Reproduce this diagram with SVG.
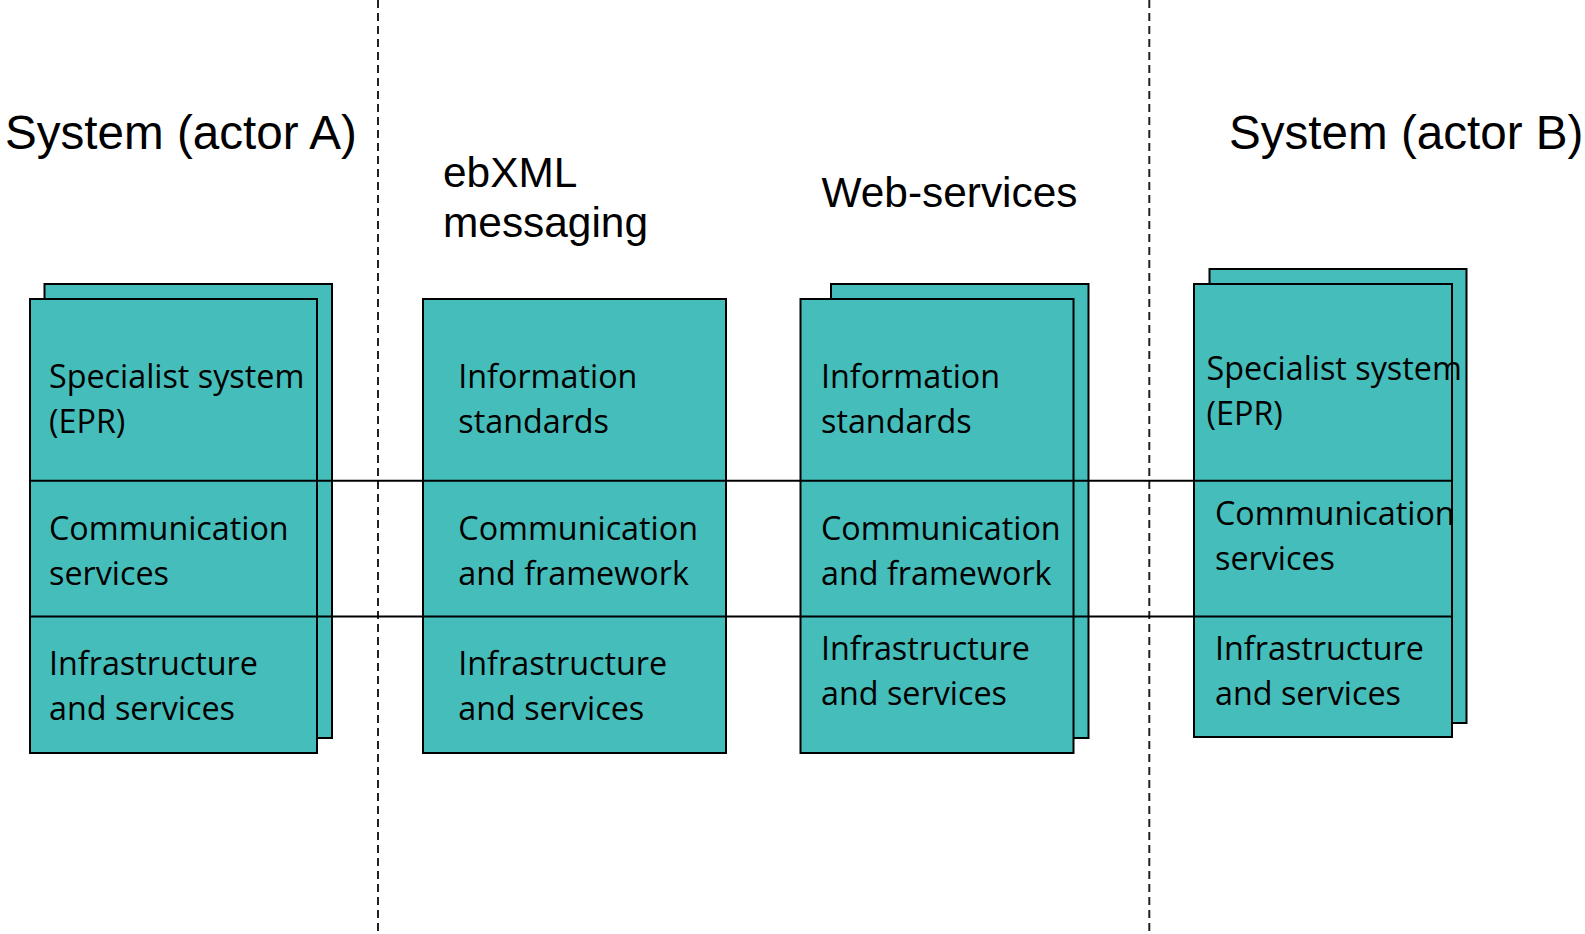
<svg xmlns="http://www.w3.org/2000/svg" width="1585" height="934" viewBox="0 0 1585 934">
<style>
.box{fill:#45BDBA;stroke:#000;stroke-width:2}
.t{font-family:"Open Sans","Noto Sans",sans-serif;font-size:32.3px;fill:#000}
.h{font-family:"Liberation Sans",Arial,sans-serif;fill:#000}
.dash{stroke:#222;stroke-width:2;stroke-dasharray:8,5;fill:none}
.ln{stroke:#000;stroke-width:2;fill:none}
</style>
<rect width="1585" height="934" fill="#fff"/>
<g id="dividers">
<line class="dash" x1="378" y1="0" x2="378" y2="934"/>
<line class="dash" x1="1149.3" y1="0" x2="1149.3" y2="934"/>
</g>
<g id="headings">
<text class="h" x="5" y="148.5" font-size="47.6">System (actor A)</text>
<text class="h" x="443" y="186.7" font-size="42.4">ebXML</text>
<text class="h" x="443" y="236.7" font-size="42.4">messaging</text>
<text class="h" x="821.5" y="206.7" font-size="42.4">Web-services</text>
<text class="h" x="1229" y="148.5" font-size="47.6">System (actor B)</text>
</g>
<g id="actorA">
<rect class="box" x="44.5" y="284" width="287.5" height="454"/>
<rect class="box" x="30" y="299" width="287" height="454"/>
<text class="t" x="49" y="388.3">Specialist system</text>
<text class="t" x="49" y="433.3">(EPR)</text>
<text class="t" x="49" y="540">Communication</text>
<text class="t" x="49" y="585">services</text>
<text class="t" x="49" y="675">Infrastructure</text>
<text class="t" x="49" y="720">and services</text>
</g>
<g id="ebxml">
<rect class="box" x="423" y="299" width="303" height="454"/>
<text class="t" x="458.3" y="388.3">Information</text>
<text class="t" x="458.3" y="433.3">standards</text>
<text class="t" x="458.3" y="540">Communication</text>
<text class="t" x="458.3" y="585">and framework</text>
<text class="t" x="458.3" y="675">Infrastructure</text>
<text class="t" x="458.3" y="720">and services</text>
</g>
<g id="webservices">
<rect class="box" x="831" y="284" width="257.5" height="454"/>
<rect class="box" x="800.5" y="299" width="273" height="454"/>
<text class="t" x="821" y="388.3">Information</text>
<text class="t" x="821" y="433.3">standards</text>
<text class="t" x="821" y="540">Communication</text>
<text class="t" x="821" y="585">and framework</text>
<text class="t" x="821" y="660">Infrastructure</text>
<text class="t" x="821" y="705">and services</text>
</g>
<g id="actorB">
<rect class="box" x="1209.5" y="269" width="257" height="454"/>
<rect class="box" x="1194" y="284" width="258" height="453"/>
<text class="t" x="1206.5" y="380">Specialist system</text>
<text class="t" x="1206.5" y="425">(EPR)</text>
<text class="t" x="1215" y="525">Communication</text>
<text class="t" x="1215" y="570">services</text>
<text class="t" x="1215" y="660">Infrastructure</text>
<text class="t" x="1215" y="705">and services</text>
</g>
<g id="connectors">
<line class="ln" x1="30" y1="480.7" x2="1452" y2="480.7"/>
<line class="ln" x1="30" y1="616.5" x2="1452" y2="616.5"/>
</g>
</svg>
